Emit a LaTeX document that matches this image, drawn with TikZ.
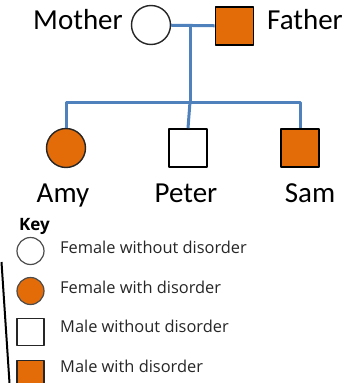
\documentclass[tikz,border=0pt]{standalone}
\usepackage{fontspec}
\setmainfont{Carlito}
\newfontfamily\keyfont{Open Sans}
\usepackage{xcolor}
\definecolor{affected}{RGB}{227,108,9}
\definecolor{kinblue}{RGB}{79,129,189}

\begin{document}
\begin{tikzpicture}[line cap=round,line join=round,x=1pt,y=-1pt,
  female/.style={circle,draw=black!85,line width=1.4pt,minimum size=39pt,inner sep=0pt},
  male/.style={rectangle,draw=black,line width=1.6pt,minimum size=38pt,inner sep=0pt},
  keyfemale/.style={circle,draw=black!70,line width=1.2pt,minimum size=27pt,inner sep=0pt},
  keymale/.style={rectangle,draw=black!85,line width=1.3pt,minimum size=27pt,inner sep=0pt},
  kin/.style={draw=kinblue,line width=3pt,line cap=butt},
  personlabel/.style={inner sep=0pt,font=\fontsize{29}{30}\selectfont},
  keytext/.style={inner sep=0pt,anchor=base west,text=black!85,font=\keyfont\fontsize{16.4}{18}\selectfont}]
\useasboundingbox (0,0) rectangle (350,383);
% parents
\node[female] (mother) at (151,25) {};
\node[male,fill=affected] (father) at (234.5,26) {};
\node[personlabel,anchor=base east] (mothername) at (123,29) {Mother};
\node[personlabel,anchor=base west] (fathername) at (267,29) {Father};
% children
\node[female,fill=affected] (amy) at (66,148) {};
\node[male] (peter) at (188,148) {};
\node[male,fill=affected] (sam) at (300,148) {};
\node[personlabel,anchor=base] (amyname) at (63,202) {Amy};
\node[personlabel,anchor=base] (petername) at (186,202) {Peter};
\node[personlabel,anchor=base] (samname) at (310,202) {Sam};
% lines of descent
\coordinate (mid) at (190,25);
\coordinate (sib) at (190,102);
\draw[kin] (mother) -- (father);
\draw[kin] (mid) -- (sib);
\draw[kin] (amy.north) -- (amy.north |- sib) -- (sam.north |- sib) -- (sam.north);
\draw[kin] (sib) -- (peter.north);
% key
\node[inner sep=0pt,anchor=base west,font=\keyfont\bfseries\fontsize{17}{18}\selectfont] (key) at (19,230) {Key};
\node[keyfemale] (k1) at (30.5,251) {};
\node[keyfemale,fill=affected] (k2) at (30.5,291) {};
\node[keymale] (k3) at (30.5,332) {};
\node[keymale,fill=affected] (k4) at (30.5,374) {};
\node[keytext] (t1) at (60,253.5) {Female without disorder};
\node[keytext] (t2) at (60,293.5) {Female with disorder};
\node[keytext] (t3) at (60,332.5) {Male without disorder};
\node[keytext] (t4) at (60,372.5) {Male with disorder};
\draw[line width=2pt,line cap=butt] (1.5,262) -- (9.5,383);
\end{tikzpicture}
\end{document}
